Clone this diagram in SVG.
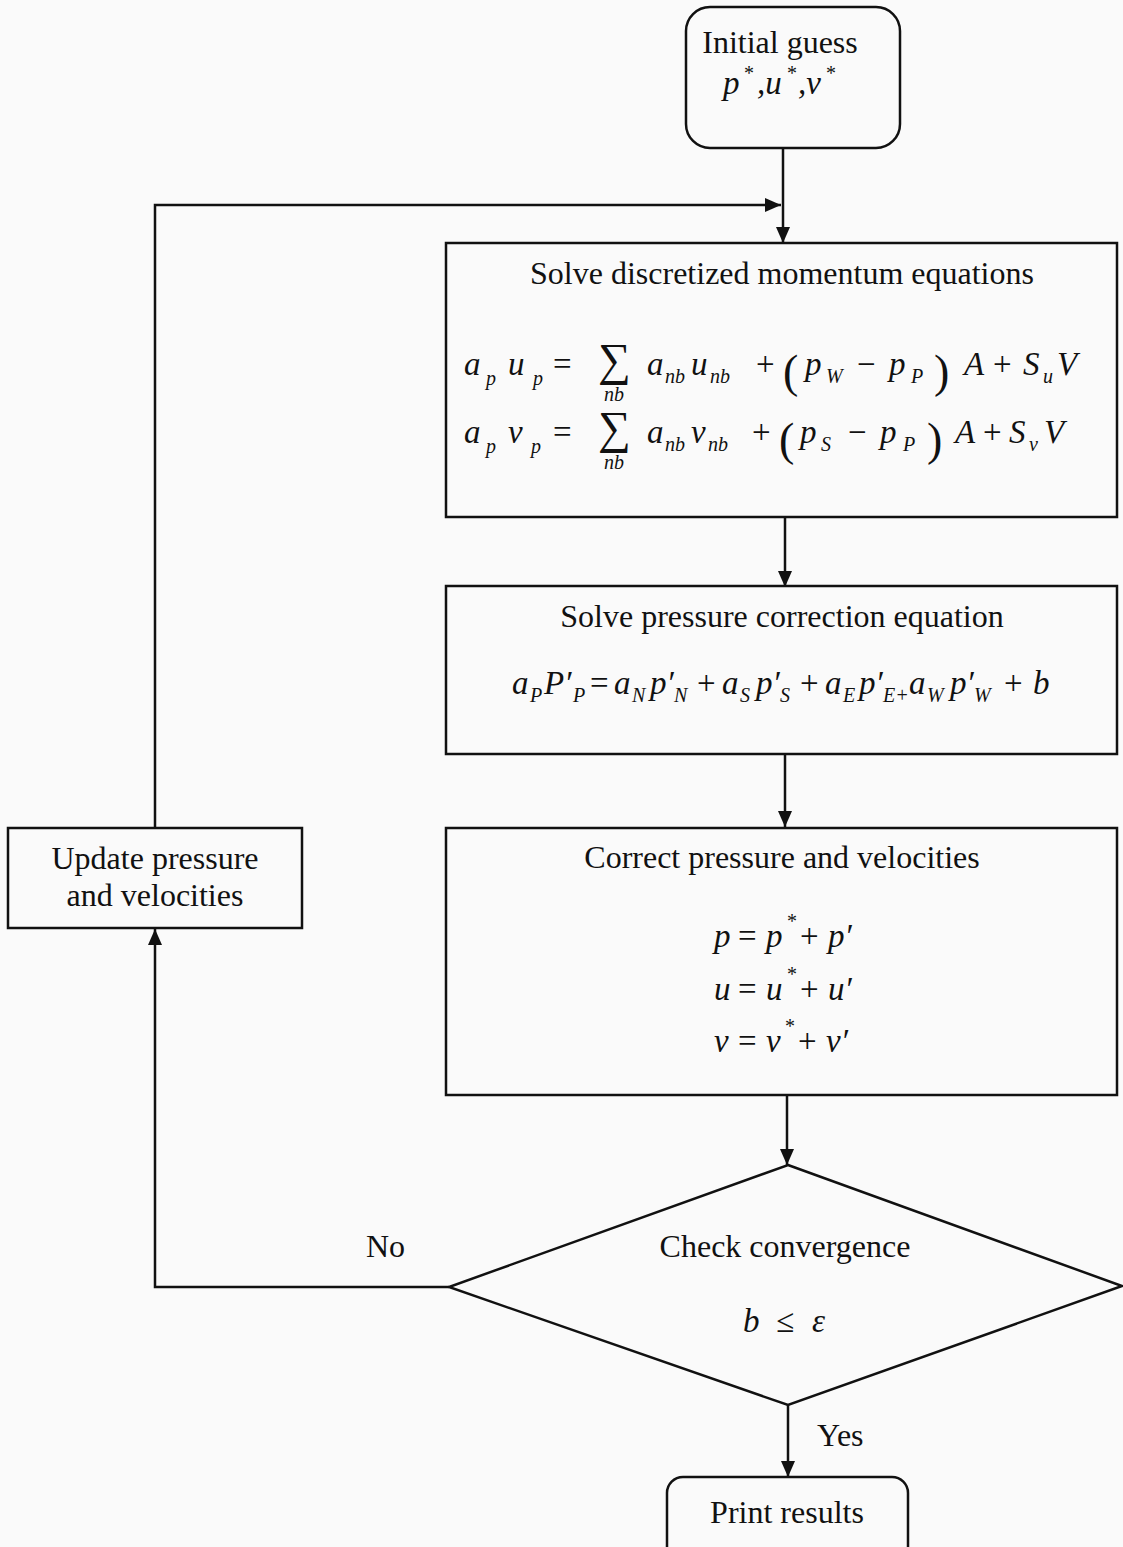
<svg xmlns="http://www.w3.org/2000/svg" width="1123" height="1547" viewBox="0 0 1123 1547">
<defs>
<style>
.box{fill:none;stroke:#111;stroke-width:2.5}
.ln{fill:none;stroke:#111;stroke-width:2.5}
.t{font-family:"Liberation Serif","Times New Roman",serif;font-size:32px;fill:#111}
.c{text-anchor:middle}
.m{font-family:"Liberation Serif","Times New Roman",serif;font-size:33px;font-style:italic;fill:#111}
.s{font-size:20px}
.u{font-style:normal}
.big{font-size:46px;font-style:normal}
</style>
<marker id="a" viewBox="0 0 16 14" refX="16" refY="7" markerWidth="16" markerHeight="14" markerUnits="userSpaceOnUse" orient="auto">
<path d="M0,0 L16,7 L0,14 z" fill="#111"/>
</marker>
</defs>
<rect x="0" y="0" width="1123" height="1547" fill="#fafafa"/>

<g id="connectors">
<path class="ln" d="M783,148 L783,243" marker-end="url(#a)"/>
<path class="ln" d="M155,828 L155,205 L781,205" marker-end="url(#a)"/>
<path class="ln" d="M785,517 L785,587" marker-end="url(#a)"/>
<path class="ln" d="M785,754 L785,827" marker-end="url(#a)"/>
<path class="ln" d="M787,1095 L787,1165" marker-end="url(#a)"/>
<path class="ln" d="M788,1405 L788,1477" marker-end="url(#a)"/>
<path class="ln" d="M449,1287 L155,1287 L155,929" marker-end="url(#a)"/>
<text class="t" x="366" y="1257">No</text>
<text class="t" x="817" y="1446">Yes</text>
</g>

<g id="initial">
<rect class="box" x="686" y="7" width="214" height="141" rx="24"/>
<text class="t c" x="780" y="53">Initial guess</text>
<g class="m">
<text x="723" y="94">p</text><text class="s u" x="744" y="80">*</text>
<text x="757" y="94">,u</text><text class="s u" x="787" y="80">*</text>
<text x="798" y="94">,v</text><text class="s u" x="826" y="80">*</text>
</g>
</g>

<g id="momentum">
<rect class="box" x="446" y="243" width="671" height="274"/>
<text class="t c" x="782" y="284">Solve discretized momentum equations</text>
<g class="m">
<text x="464" y="375">a</text><text class="s" x="486" y="385">p</text>
<text x="508" y="375">u</text><text class="s" x="533" y="385">p</text>
<text class="u" x="553" y="375">=</text>
<text class="big" x="598" y="375">∑</text><text class="s" x="604" y="401">nb</text>
<text x="647" y="375">a</text><text class="s" x="665" y="383">nb</text>
<text x="691" y="375">u</text><text class="s" x="710" y="383">nb</text>
<text class="u" x="756" y="375">+</text>
<text class="big" x="783" y="387">(</text>
<text x="805" y="375">p</text><text class="s" x="826" y="383">W</text>
<text class="u" x="857" y="375">−</text>
<text x="889" y="375">p</text><text class="s" x="911" y="383">P</text>
<text class="big" x="934" y="387">)</text>
<text x="964" y="375">A</text>
<text class="u" x="993" y="375">+</text>
<text x="1023" y="375">S</text><text class="s" x="1043" y="383">u</text>
<text x="1057" y="375">V</text>

<text x="464" y="443">a</text><text class="s" x="486" y="453">p</text>
<text x="508" y="443">v</text><text class="s" x="531" y="453">p</text>
<text class="u" x="553" y="443">=</text>
<text class="big" x="598" y="443">∑</text><text class="s" x="604" y="469">nb</text>
<text x="647" y="443">a</text><text class="s" x="665" y="451">nb</text>
<text x="691" y="443">v</text><text class="s" x="708" y="451">nb</text>
<text class="u" x="752" y="443">+</text>
<text class="big" x="779" y="455">(</text>
<text x="800" y="443">p</text><text class="s" x="821" y="451">S</text>
<text class="u" x="848" y="443">−</text>
<text x="880" y="443">p</text><text class="s" x="903" y="451">P</text>
<text class="big" x="927" y="455">)</text>
<text x="955" y="443">A</text>
<text class="u" x="983" y="443">+</text>
<text x="1009" y="443">S</text><text class="s" x="1029" y="451">v</text>
<text x="1044" y="443">V</text>
</g>
</g>

<g id="pressure">
<rect class="box" x="446" y="586" width="671" height="168"/>
<text class="t c" x="782" y="627">Solve pressure correction equation</text>
<g class="m">
<text x="512" y="694">a</text><text class="s" x="530" y="702">P</text>
<text x="544" y="694">P′</text><text class="s" x="573" y="702">P</text>
<text class="u" x="590" y="694">=</text>
<text x="614" y="694">a</text><text class="s" x="632" y="702">N</text>
<text x="650" y="694">p′</text><text class="s" x="674" y="702">N</text>
<text class="u" x="697" y="694">+</text>
<text x="722" y="694">a</text><text class="s" x="740" y="702">S</text>
<text x="756" y="694">p′</text><text class="s" x="780" y="702">S</text>
<text class="u" x="800" y="694">+</text>
<text x="825" y="694">a</text><text class="s" x="843" y="702">E</text>
<text x="859" y="694">p′</text><text class="s" x="883" y="702">E+</text>
<text x="909" y="694">a</text><text class="s" x="927" y="702">W</text>
<text x="950" y="694">p′</text><text class="s" x="974" y="702">W</text>
<text class="u" x="1004" y="694">+</text>
<text x="1033" y="694">b</text>
</g>
</g>

<g id="correct">
<rect class="box" x="446" y="828" width="671" height="267"/>
<text class="t c" x="782" y="868">Correct pressure and velocities</text>
<g class="m">
<text x="714" y="947">p</text><text class="u" x="738" y="947">=</text><text x="766" y="947">p</text><text class="s u" x="787" y="928">*</text><text class="u" x="800" y="947">+</text><text x="828" y="947">p′</text>
<text x="714" y="1000">u</text><text class="u" x="738" y="1000">=</text><text x="766" y="1000">u</text><text class="s u" x="787" y="981">*</text><text class="u" x="800" y="1000">+</text><text x="828" y="1000">u′</text>
<text x="714" y="1052">v</text><text class="u" x="738" y="1052">=</text><text x="766" y="1052">v</text><text class="s u" x="785" y="1033">*</text><text class="u" x="798" y="1052">+</text><text x="826" y="1052">v′</text>
</g>
</g>

<g id="update">
<rect class="box" x="8" y="828" width="294" height="100"/>
<text class="t c" x="155" y="869">Update pressure</text>
<text class="t c" x="155" y="906">and velocities</text>
</g>

<g id="check">
<polygon class="box" points="788,1165 1122,1286 788,1405 449,1287"/>
<text class="t c" x="785" y="1257">Check convergence</text>
<g class="m">
<text x="743" y="1332">b</text><text class="u" x="776" y="1332">≤</text><text x="812" y="1332">ε</text>
</g>
</g>

<g id="print">
<rect class="box" x="667" y="1477" width="241" height="90" rx="16"/>
<text class="t c" x="787" y="1523">Print results</text>
</g>
</svg>
